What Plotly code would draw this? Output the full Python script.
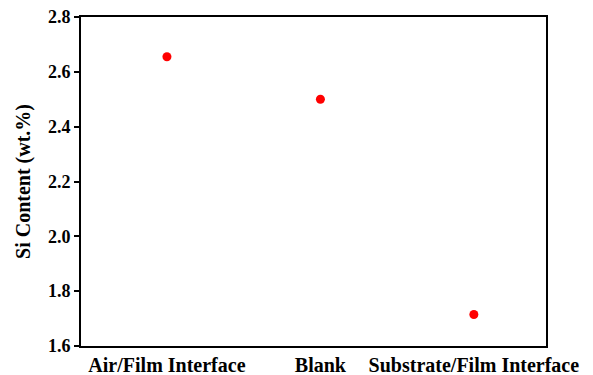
import plotly.graph_objects as go

categories = ["Air/Film Interface", "Blank", "Substrate/Film Interface"]
si_content = [2.655, 2.50, 1.715]

fig = go.Figure()
fig.add_trace(go.Scatter(
    x=list(range(len(categories))),
    y=si_content,
    mode="markers",
    marker=dict(color="#ff0000", size=9),
    showlegend=False,
))

font_family = "Liberation Serif, Times New Roman, serif"

fig.update_layout(
    width=593, height=375,
    margin=dict(l=81, r=47, t=17, b=29),
    paper_bgcolor="white", plot_bgcolor="white",
    font=dict(family=font_family, color="black"),
    xaxis=dict(
        tickmode="array",
        tickvals=list(range(len(categories))),
        ticktext=["<b>%s</b>" % c for c in categories],
        range=[-0.56, 2.47],
        automargin=False,
        showgrid=False, zeroline=False,
        showline=True, linecolor="black", linewidth=2, mirror=True,
        ticks="", tickfont=dict(size=20, family=font_family, color="black"),
    ),
    yaxis=dict(
        range=[1.6, 2.8], dtick=0.2, tick0=1.6, tickformat=".1f",
        automargin=False,
        showgrid=False, zeroline=False,
        showline=True, linecolor="black", linewidth=2, mirror=True,
        ticks="outside", ticklen=5, tickwidth=1.5, tickcolor="black",
        tickfont=dict(size=18, family=font_family, color="black", weight="bold"),
        title=dict(text="<b>Si Content (wt.%)</b>", font=dict(size=20, family=font_family, color="black"), standoff=12),
    ),
)

fig.write_html(
    "out.html",
    config={"displayModeBar": False},
    post_script="document.body.style.margin='0';document.body.style.padding='0';",
)
